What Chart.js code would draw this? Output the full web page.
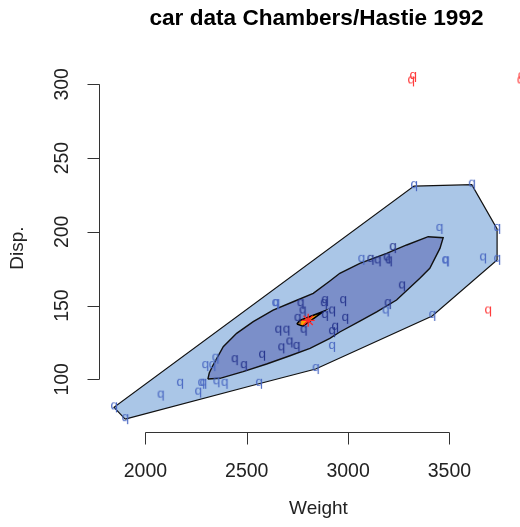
<!DOCTYPE html>
<html>
<head>
<meta charset="utf-8">
<script src="https://cdn.jsdelivr.net/npm/chart.js@4/dist/chart.umd.min.js"></script>
<style>
  html, body { margin: 0; padding: 0; background: #fff; overflow: hidden; }
</style>
</head>
<body>
<canvas id="bag" width="520" height="527"></canvas>
<script>
// car.test.frame, Weight vs Disp. (bagplot)
const bagW  = [2440, 2885, 2695, 2710, 2775, 2485, 2670, 2655, 2750, 2920, 2780, 2745, 3110, 2920,
               2575, 2935, 2985, 3265, 2880, 2975, 3145, 3190, 2885, 3200, 2765, 3220, 3195];
const bagD  = [113, 153, 133, 125, 146, 109, 121, 133, 141, 132, 133, 122, 181, 146,
               116, 135, 141, 163, 151, 153, 180, 182, 143, 180, 151, 189, 151];
const loopW = [2560, 2345, 1845, 2260, 2285, 2275, 2350, 2295, 1900, 2390, 2075, 2330, 2170, 2840,
               2640, 3065, 2645, 2920, 3450, 3610, 3480, 3480, 3325, 3735, 3665, 3735, 3415, 3185];
const loopD = [97, 114, 81, 91, 97, 97, 98, 109, 73, 97, 89, 109, 97, 107,
               151, 181, 151, 122, 202, 232, 180, 180, 231, 202, 182, 181, 143, 146];
const outW  = [3320, 3310, 3855, 3850, 3690];
const outD  = [305, 302, 305, 302, 146];
const centerW = [2803];
const centerD = [140];

// hull outlines
const loopHullW = [1900, 2560, 2840, 3415, 3735, 3735, 3610, 3325, 1845];
const loopHullD = [73, 97, 107, 143, 181, 202, 232, 231, 81];
const bagHullW = [2308, 2368, 2482, 2598, 2713, 2812, 2910, 2959, 3058, 3141, 3239, 3354, 3403, 3453,
                  3469, 3395, 3289, 3190, 3058, 2959, 2910, 2828, 2729, 2630, 2532, 2450, 2384, 2334, 2315];
const bagHullD = [100.2, 100.7, 105.2, 110.4, 116, 121, 127.8, 132.1, 139.5, 145.8, 153.8, 168.5, 175.3, 188.8,
                  196, 196.7, 191.1, 185.4, 178.6, 171.9, 166.7, 158.3, 152.6, 147, 139.1, 131.2, 122.1, 109.7, 104.3];
const coreW = [2747, 2762, 2881, 2777];
const coreD = [137.5, 139.9, 146.2, 136.1];

const xTicks = [2000, 2500, 3000, 3500];
const yTicks = [100, 150, 200, 250, 300];

function pts(xs, ys) {
  return xs.map((x, i) => ({ x: x, y: ys[i] }));
}
function closed(xs, ys) {
  const p = pts(xs, ys);
  p.push(p[0]);
  return p;
}

// R drew the filled dots as a "q" glyph
function glyph(color) {
  const c = document.createElement('canvas');
  c.width = 10; c.height = 12;
  const g = c.getContext('2d');
  g.font = '13.5px "Liberation Sans", Arial, sans-serif';
  g.fillStyle = color;
  const m = g.measureText('q');
  const w = m.actualBoundingBoxLeft + m.actualBoundingBoxRight;
  const h = m.actualBoundingBoxAscent + m.actualBoundingBoxDescent;
  g.fillText('q', (c.width - w) / 2 + m.actualBoundingBoxLeft, (c.height - h) / 2 + m.actualBoundingBoxAscent);
  return c;
}

const rAxes = {
  id: 'rAxes',
  afterDraw(chart) {
    const ctx = chart.ctx;
    const xs = chart.scales.x, ys = chart.scales.y;
    const a = chart.chartArea;
    const tick = 12;
    ctx.save();
    ctx.strokeStyle = '#333';
    ctx.lineWidth = 1;
    ctx.fillStyle = '#222';

    // x axis
    const yb = a.bottom + 0.5;
    ctx.beginPath();
    ctx.moveTo(xs.getPixelForValue(xTicks[0]), yb);
    ctx.lineTo(xs.getPixelForValue(xTicks[xTicks.length - 1]), yb);
    xTicks.forEach(v => {
      const px = Math.round(xs.getPixelForValue(v)) + 0.5;
      ctx.moveTo(px, yb);
      ctx.lineTo(px, yb + tick);
    });
    ctx.stroke();
    ctx.font = '19.5px "Liberation Sans", Arial, sans-serif';
    ctx.textAlign = 'center';
    ctx.textBaseline = 'alphabetic';
    xTicks.forEach(v => ctx.fillText(String(v), xs.getPixelForValue(v), a.bottom + 45));

    // y axis
    const xl = a.left + 0.5;
    ctx.beginPath();
    ctx.moveTo(xl, ys.getPixelForValue(yTicks[0]));
    ctx.lineTo(xl, ys.getPixelForValue(yTicks[yTicks.length - 1]));
    yTicks.forEach(v => {
      const py = Math.round(ys.getPixelForValue(v)) + 0.5;
      ctx.moveTo(xl, py);
      ctx.lineTo(xl - tick, py);
    });
    ctx.stroke();
    yTicks.forEach(v => {
      ctx.save();
      ctx.translate(a.left - 31, ys.getPixelForValue(v));
      ctx.rotate(-Math.PI / 2);
      ctx.fillText(String(v), 0, 0);
      ctx.restore();
    });

    // axis titles
    const cx = (a.left + 538) / 2;
    ctx.font = '19px "Liberation Sans", Arial, sans-serif';
    ctx.fillText('Weight', cx, 514);
    ctx.save();
    ctx.translate(23, (a.top + a.bottom) / 2);
    ctx.rotate(-Math.PI / 2);
    ctx.fillText('Disp.', 0, 0);
    ctx.restore();

    // main title
    ctx.fillStyle = '#000';
    ctx.font = 'bold 22.6px "Liberation Sans", Arial, sans-serif';
    ctx.fillText('car data Chambers/Hastie 1992', cx - 2, 25);
    ctx.restore();
  }
};

const ctx = document.getElementById('bag').getContext('2d');
const chart = new Chart(ctx, {
  type: 'scatter',
  data: {
    datasets: [
      {
        data: pts(centerW, centerD),
        pointStyle: 'star', radius: 6.5, hoverRadius: 6.5,
        borderColor: '#ff2a2a', backgroundColor: '#ff2a2a', borderWidth: 1.3,
        order: 0
      },
      {
        data: pts(outW, outD),
        pointStyle: glyph('#ff3d3d'), radius: 4, hoverRadius: 4,
        clip: false, order: 1
      },
      {
        data: pts(bagW, bagD),
        pointStyle: glyph('#27368e'), radius: 4, hoverRadius: 4,
        order: 2
      },
      {
        data: pts(loopW, loopD),
        pointStyle: glyph('#4a68c2'), radius: 4, hoverRadius: 4,
        order: 3
      },
      {
        data: closed(coreW, coreD),
        showLine: true, fill: 'shape', tension: 0,
        backgroundColor: '#ffa000', borderColor: '#000', borderWidth: 1.5,
        pointRadius: 0, pointHoverRadius: 0, order: 4
      },
      {
        data: closed(bagHullW, bagHullD),
        showLine: true, fill: 'shape', tension: 0,
        backgroundColor: '#7b8fc9', borderColor: '#111', borderWidth: 1.4,
        pointRadius: 0, pointHoverRadius: 0, order: 5
      },
      {
        data: closed(loopHullW, loopHullD),
        showLine: true, fill: 'shape', tension: 0,
        backgroundColor: '#aac6e7', borderColor: '#111', borderWidth: 1.2,
        pointRadius: 0, pointHoverRadius: 0, order: 6
      }
    ]
  },
  options: {
    responsive: false,
    animation: false,
    layout: { autoPadding: false, padding: { left: 99, top: 64, right: 0, bottom: 95 } },
    scales: {
      x: { type: 'linear', min: 1771, max: 3848, display: false },
      y: { type: 'linear', min: 64.3, max: 313.8, display: false }
    },
    plugins: {
      legend: { display: false },
      tooltip: { enabled: false }
    }
  },
  plugins: [rAxes]
});
</script>
</body>
</html>
